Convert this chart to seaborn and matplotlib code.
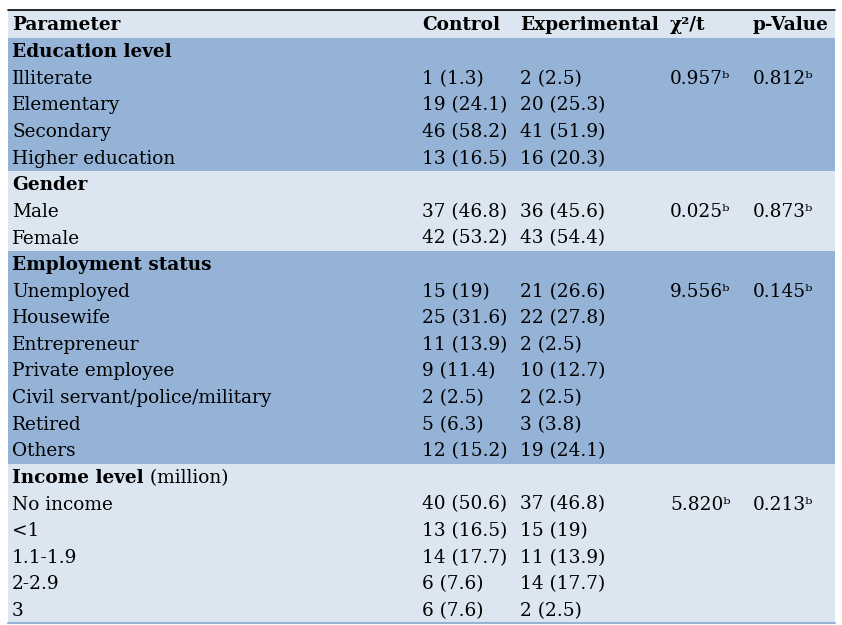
import matplotlib.pyplot as plt
import matplotlib.patches as mpatches
import seaborn as sns

# ── Data ─────────────────────────────────────────────
headers = ["Parameter", "Control", "Experimental", "χ²/t", "p-Value"]

groups = ["Education level", "Gender", "Employment status", "Income level"]
group_suffix = ["", "", "", " (million)"]

education = ["Illiterate", "Elementary", "Secondary", "Higher education"]
education_ctrl = ["1 (1.3)", "19 (24.1)", "46 (58.2)", "13 (16.5)"]
education_exp = ["2 (2.5)", "20 (25.3)", "41 (51.9)", "16 (20.3)"]

gender = ["Male", "Female"]
gender_ctrl = ["37 (46.8)", "42 (53.2)"]
gender_exp = ["36 (45.6)", "43 (54.4)"]

employment = ["Unemployed", "Housewife", "Entrepreneur", "Private employee",
              "Civil servant/police/military", "Retired", "Others"]
employment_ctrl = ["15 (19)", "25 (31.6)", "11 (13.9)", "9 (11.4)",
                   "2 (2.5)", "5 (6.3)", "12 (15.2)"]
employment_exp = ["21 (26.6)", "22 (27.8)", "2 (2.5)", "10 (12.7)",
                  "2 (2.5)", "3 (3.8)", "19 (24.1)"]

income = ["No income", "<1", "1.1-1.9", "2-2.9", "3"]
income_ctrl = ["40 (50.6)", "13 (16.5)", "14 (17.7)", "6 (7.6)", "6 (7.6)"]
income_exp = ["37 (46.8)", "15 (19)", "11 (13.9)", "14 (17.7)", "2 (2.5)"]

chi_t = ["0.957ᵇ", "0.025ᵇ", "9.556ᵇ", "5.820ᵇ"]
p_val = ["0.812ᵇ", "0.873ᵇ", "0.145ᵇ", "0.213ᵇ"]

sections = [
    (education, education_ctrl, education_exp),
    (gender, gender_ctrl, gender_exp),
    (employment, employment_ctrl, employment_exp),
    (income, income_ctrl, income_exp),
]

# ── Style ────────────────────────────────────────────
sns.set_theme(style="white")
plt.rcParams["font.family"] = ["DejaVu Serif"]
plt.rcParams["text.color"] = "black"
DARK = "#95B3D7"
LIGHT = "#DCE6F1"
FS = 13.3

fig = plt.figure(figsize=(8.42, 6.25), dpi=100)
ax = fig.add_axes([0, 0, 1, 1])
ax.set_xlim(0, 842)
ax.set_ylim(625, 0)
ax.axis("off")

L, R = 8, 835
col_x = [12, 422, 520, 670, 753]
top, head_h, row_h = 10, 28, 26.6

# header
ax.add_patch(mpatches.Rectangle((L, top), R - L, head_h, color=LIGHT, lw=0))
for x, h in zip(col_x, headers):
    ax.text(x, top + head_h / 2 + 1, h, fontsize=FS, fontweight="bold",
            va="center", ha="left")
ax.plot([L, R], [top, top], color="black", lw=1.2)

y = top + head_h
for i, (labels, ctrl, exp) in enumerate(sections):
    n = len(labels) + 1
    ax.add_patch(mpatches.Rectangle((L, y), R - L, n * row_h,
                                    color=DARK if i % 2 == 0 else LIGHT, lw=0))
    cy = y + row_h / 2 + 1
    t = ax.text(col_x[0], cy, groups[i], fontsize=FS, fontweight="bold",
                va="center", ha="left")
    if group_suffix[i]:
        ax.annotate(group_suffix[i], xycoords=t, xy=(1, 0.5), va="center",
                    ha="left", fontsize=FS)
    for j, (lab, c, e) in enumerate(zip(labels, ctrl, exp)):
        cy = y + (j + 1.5) * row_h + 1
        ax.text(col_x[0], cy, lab, fontsize=FS, va="center")
        ax.text(col_x[1], cy, c, fontsize=FS, va="center")
        ax.text(col_x[2], cy, e, fontsize=FS, va="center")
        if j == 0:
            ax.text(col_x[3], cy, chi_t[i], fontsize=FS, va="center")
            ax.text(col_x[4], cy, p_val[i], fontsize=FS, va="center")
    y += n * row_h

ax.plot([L, R], [y, y], color="#95B3D7", lw=1.5)

fig.savefig("out.png", dpi=100, facecolor="white")
